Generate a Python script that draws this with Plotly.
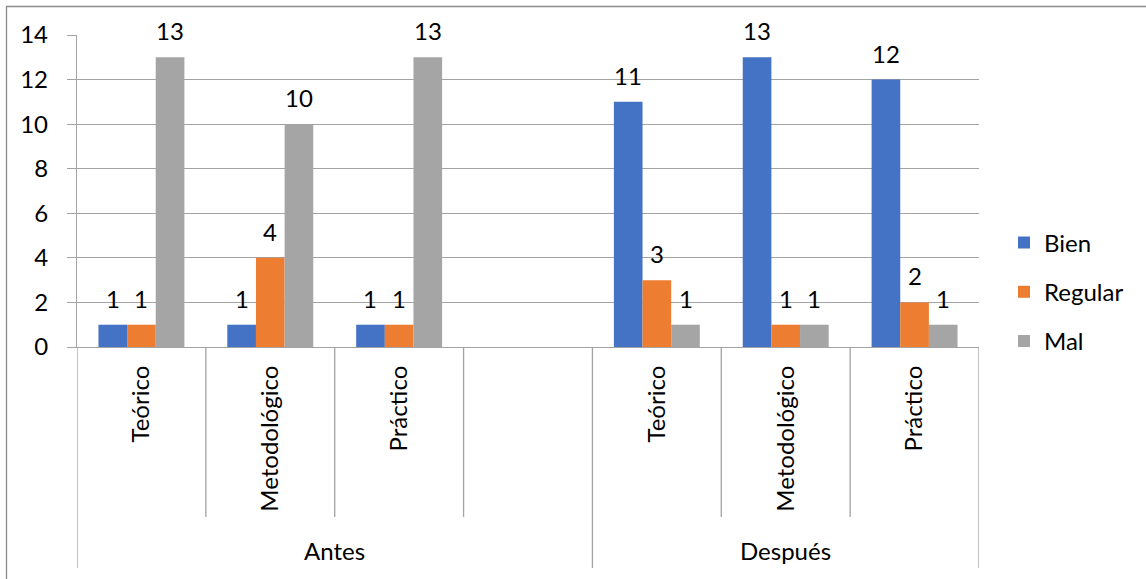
import plotly.graph_objects as go

# Category slots (group, sub-category); the 4th slot of "Antes" is an empty spacer
groups = ["Antes", "Antes", "Antes", "Antes", "Después", "Después", "Después"]
sub_labels = ["Teórico", "Metodológico", "Práctico", "", "Teórico", "Metodológico", "Práctico"]
group_names = ["Antes", "Después"]

series_names = ["Bien", "Regular", "Mal"]
bien = [1, 1, 1, None, 11, 13, 12]
regular = [1, 4, 1, None, 3, 1, 2]
mal = [13, 10, 13, None, 1, 1, 1]
y_ticks = [0, 2, 4, 6, 8, 10, 12, 14]

colors = ["#4472C4", "#ED7D31", "#A5A5A5"]
series_values = [bien, regular, mal]

FONT = "Lato, Carlito, Calibri, sans-serif"
FS = 24
LINE = "#A3A3A3"

W, H = 1146, 579
L, R, T, B = 77, 167, 35, 232
PW, PH = W - L - R, H - T - B

cat_ids = [f"{g}|{s}|{i}" for i, (g, s) in enumerate(zip(groups, sub_labels))]

BARGAP = 0.333
bw = (1 - BARGAP) / 3

fig = go.Figure()
for k, (name, vals, col) in enumerate(zip(series_names, series_values, colors)):
    fig.add_trace(go.Bar(
        x=cat_ids, y=vals, name=name, marker=dict(color=col, line=dict(width=0)),
        legendgroup=name,
    ))

annotations = []
for k, vals in enumerate(series_values):
    for i, v in enumerate(vals):
        if v is None:
            continue
        annotations.append(dict(
            x=i + (k - 1) * bw, y=v, xref="x", yref="y", text=str(v),
            showarrow=False, yanchor="bottom", yshift=10,
            font=dict(family=FONT, size=FS, color="black"),
        ))

def py(px_y):
    return (T + PH - px_y) / PH

def pxx(px_x):
    return (px_x - L) / PW

# group labels centred under their slots
for g in group_names:
    idx = [i for i, gg in enumerate(groups) if gg == g]
    annotations.append(dict(
        x=(idx[0] + idx[-1]) / 2, y=py(550), xref="x", yref="paper", text=g,
        showarrow=False, yanchor="middle",
        font=dict(family=FONT, size=FS, color="black"),
    ))

shapes = []
# divider lines below the category axis
n = len(cat_ids)
for b in range(n + 1):
    xb = b - 0.5
    is_group_edge = b == 0 or b == n or groups[b - 1] != groups[b]
    shapes.append(dict(
        type="line", xref="x", yref="paper", x0=xb, x1=xb, y0=0,
        y1=py(568) if is_group_edge else py(517),
        line=dict(color=LINE, width=1.3),
    ))
# outer chart border (top and left edges)
shapes.append(dict(
    type="rect", xref="paper", yref="paper",
    x0=pxx(6.5), x1=pxx(W + 20), y0=py(H + 20), y1=py(6.5),
    line=dict(color="#8C8C8C", width=1.3), fillcolor="rgba(0,0,0,0)", layer="below",
))

fig.update_layout(
    width=W, height=H, autosize=False,
    margin=dict(l=L, r=R, t=T, b=B),
    paper_bgcolor="white", plot_bgcolor="white",
    barmode="group", bargap=BARGAP, bargroupgap=0,
    font=dict(family=FONT, size=FS, color="black"),
    showlegend=True,
    legend=dict(
        x=pxx(1004), y=py(292), xanchor="left", yanchor="middle",
        font=dict(family=FONT, size=FS, color="black"),
        tracegroupgap=15, bgcolor="rgba(0,0,0,0)",
    ),
    annotations=annotations,
    shapes=shapes,
)
fig.update_xaxes(
    type="category", categoryorder="array", categoryarray=cat_ids,
    tickmode="array", tickvals=cat_ids, ticktext=sub_labels,
    tickangle=-90, ticks="", showgrid=False,
    showline=True, linecolor=LINE, linewidth=1.3,
    ticklabelstandoff=8,
    tickfont=dict(family=FONT, size=FS, color="black"),
    range=[-0.5, n - 0.5], fixedrange=True,
)
fig.update_yaxes(
    range=[0, 14], tickmode="array", tickvals=y_ticks,
    showgrid=True, gridcolor=LINE, gridwidth=1.3,
    ticks="outside", ticklen=9, tickcolor=LINE, tickwidth=1.3,
    showline=True, linecolor=LINE, linewidth=1.3, zeroline=False,
    ticklabelstandoff=14,
    tickfont=dict(family=FONT, size=FS, color="black"),
)

fig.write_html("out.html")
